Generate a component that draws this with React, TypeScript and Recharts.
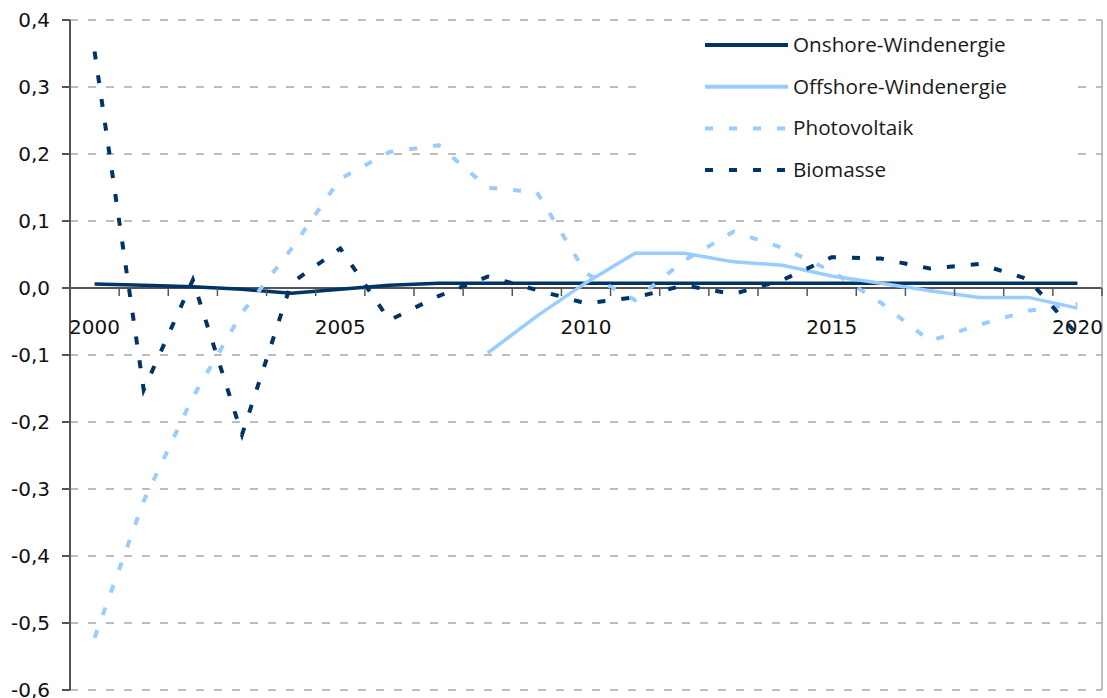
import React from 'react';
import {
  CartesianGrid,
  Legend,
  Line,
  LineChart,
  ReferenceLine,
  XAxis,
  YAxis,
} from 'recharts';

const years = [
  '2000', '2001', '2002', '2003', '2004', '2005', '2006', '2007', '2008', '2009', '2010',
  '2011', '2012', '2013', '2014', '2015', '2016', '2017', '2018', '2019', '2020',
];

const onshore = [
  0.006, 0.004, 0.002, -0.002, -0.008, -0.002, 0.004, 0.007, 0.007, 0.007, 0.007,
  0.007, 0.007, 0.007, 0.007, 0.007, 0.007, 0.007, 0.007, 0.007, 0.007,
];

const offshore = [
  null, null, null, null, null, null, null, null, -0.097, -0.042, 0.008,
  0.052, 0.052, 0.039, 0.034, 0.018, 0.007, -0.004, -0.014, -0.014, -0.03,
];

const photovoltaik = [
  -0.522, -0.318, -0.163, -0.037, 0.058, 0.163, 0.203, 0.213, 0.15, 0.143, 0.022,
  -0.018, 0.041, 0.084, 0.06, 0.025, -0.022, -0.079, -0.055, -0.034, -0.024,
];

const biomasse = [
  0.353, -0.152, 0.012, -0.219, 0.007, 0.059, -0.048, -0.012, 0.017, -0.003, -0.023,
  -0.014, 0.004, -0.009, 0.012, 0.046, 0.044, 0.029, 0.036, 0.013, -0.07,
];

const yTicks = [-0.6, -0.5, -0.4, -0.3, -0.2, -0.1, 0, 0.1, 0.2, 0.3, 0.4];

const NAVY = '#003366';
const LIGHT = '#99ccff';

const series = [
  { key: 'onshore', name: 'Onshore-Windenergie', color: NAVY, dash: undefined },
  { key: 'offshore', name: 'Offshore-Windenergie', color: LIGHT, dash: undefined },
  { key: 'pv', name: 'Photovoltaik', color: LIGHT, dash: '8 16' },
  { key: 'bio', name: 'Biomasse', color: NAVY, dash: '8 16' },
];

const data = years.map((year, i) => ({
  year,
  onshore: onshore[i],
  offshore: offshore[i],
  pv: photovoltaik[i],
  bio: biomasse[i],
}));

// layout
const W = 1107;
const H = 698;
const TOP = 20;
const LEFT_AXIS = 70;
const RIGHT_AXIS = 5;
const X_AXIS_H = 8;
const PLOT_W = W - LEFT_AXIS - RIGHT_AXIS;
const PLOT_H = H - TOP - X_AXIS_H;
const Y_MIN = -0.6;
const Y_MAX = 0.4;
const ZERO_Y = TOP + (PLOT_H * Y_MAX) / (Y_MAX - Y_MIN);
const BAND = PLOT_W / years.length;

const fmt = (v: number) => v.toFixed(1).replace('.', ',');

// x axis sits on the zero line, tick marks between categories
const YearTick = (props: any) => {
  const { x, payload, index } = props;
  const y0 = ZERO_Y;
  const isLast = index === years.length - 1;
  const showLabel = Number(payload.value) % 5 === 0;
  return (
    <g>
      <line x1={x - BAND / 2} x2={x - BAND / 2} y1={y0} y2={y0 + 8} stroke="#555" strokeWidth={1.5} />
      {isLast && (
        <line x1={x + BAND / 2} x2={x + BAND / 2} y1={y0} y2={y0 + 8} stroke="#555" strokeWidth={1.5} />
      )}
      {showLabel && (
        <text x={x} y={y0 + 46} textAnchor="middle" fontFamily="DejaVu Sans" fontSize={20} fill="#111">
          {payload.value}
        </text>
      )}
    </g>
  );
};

const LegendBox = () => (
  <div style={{ background: '#fff', width: 430, height: 170 }}>
    <svg width={430} height={170}>
      {series.map((s, i) => {
        const cy = 21 + i * 41.7;
        return (
          <g key={s.key}>
            <line
              x1={65}
              x2={148}
              y1={cy}
              y2={cy}
              stroke={s.color}
              strokeWidth={4}
              strokeDasharray={s.dash}
            />
            <text x={153} y={cy + 7} fontFamily="Open Sans" fontSize={20.7} fill="#1a1a1a">
              {s.name}
            </text>
          </g>
        );
      })}
    </svg>
  </div>
);

export default function App() {
  return (
    <div style={{ position: 'absolute', left: 0, top: 0, width: W, height: H, background: '#fff' }}>
      <LineChart width={W} height={H} data={data} margin={{ top: TOP, right: 0, bottom: 0, left: 0 }}>
        <CartesianGrid horizontal vertical={false} stroke="#a8a8a8" strokeWidth={1.5} strokeDasharray="8 10" />
        <XAxis
          dataKey="year"
          height={X_AXIS_H}
          axisLine={false}
          tickLine={false}
          interval={0}
          padding={{ left: BAND / 2, right: BAND / 2 }}
          tick={<YearTick />}
        />
        <YAxis
          width={LEFT_AXIS}
          domain={[Y_MIN, Y_MAX]}
          ticks={yTicks}
          interval={0}
          tickFormatter={fmt}
          tickSize={8}
          tickMargin={12}
          axisLine={{ stroke: '#555', strokeWidth: 2 }}
          tickLine={{ stroke: '#555', strokeWidth: 2 }}
          tick={{ fontFamily: 'DejaVu Sans', fontSize: 20, fill: '#111' }}
        />
        <YAxis
          yAxisId="r"
          orientation="right"
          width={RIGHT_AXIS}
          domain={[Y_MIN, Y_MAX]}
          tick={false}
          tickLine={false}
          axisLine={{ stroke: '#aaa', strokeWidth: 1.5 }}
        />
        <ReferenceLine y={0} stroke="#555" strokeWidth={2} />
        <Legend
          layout="horizontal"
          verticalAlign="middle"
          align="center"
          content={<LegendBox />}
          wrapperStyle={{ left: 640, top: 24, width: 430, height: 170 }}
        />
        {series.map((s) => (
          <Line
            key={s.key}
            dataKey={s.key}
            name={s.name}
            type="linear"
            stroke={s.color}
            strokeWidth={s.dash ? 4 : 3.5}
            strokeDasharray={s.dash}
            dot={false}
            activeDot={false}
            isAnimationActive={false}
          />
        ))}
      </LineChart>
    </div>
  );
}
